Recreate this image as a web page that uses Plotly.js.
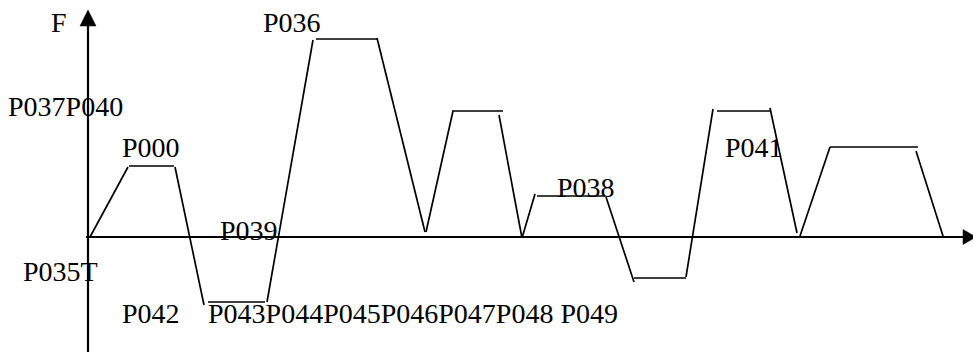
<!DOCTYPE html>
<html>
<head>
<meta charset="utf-8">
<script src="https://cdn.plot.ly/plotly-3.0.1.min.js"></script>
<style>
  body { margin: 0; background: #fff; }
  #plot { width: 973px; height: 352px; }
</style>
</head>
<body>
<div id="plot"></div>
<script>
// time axis (t) and force (F); null breaks the separate strokes of the diagram
var t = [2, 40, null, 41, 86, null, 87, 116, null, 120, 177, null,
         179, 225, null, 228, 289, null, 289, 337, null, 338, 365, null,
         364, 415, null, 411, 434, null, 434, 447, null, 449, 517, null,
         518, 546, null, 546, 598, null, 598, 625, null, 629, 682, null,
         682, 709, null, 712, 742, null, 742, 830, null, 828, 855];
var F = [0, 70, null, 71, 71, null, 70, -68, null, -65, -65, null,
         -65, 197, null, 198, 198, null, 199, 5, null, 5, 126, null,
         126, 126, null, 122, -1, null, -1, 43, null, 41, 41, null,
         40, -45, null, -41, -41, null, -40, 128, null, 126, 126, null,
         129, 4, null, 1, 90, null, 90, 90, null, 86, 1];

var labels = ["F", "P036", "P037P040", "P000", "P039", "P035T", "P042",
              "P043P044P045P046P047P048 P049", "P038", "P041"];

var trace = {
  x: t,
  y: F,
  mode: "lines",
  type: "scatter",
  connectgaps: false,
  line: {color: "#000", width: 1.7},
  hoverinfo: "skip"
};

// label anchors in pixels (left edge, text baseline)
var anchors = [[51, 32], [263, 32], [8, 116], [122, 157], [220, 240],
               [23, 281], [122, 323], [208, 323], [557, 197], [725, 157]];

var annotations = labels.map(function (txt, i) {
  return {
    text: txt,
    x: anchors[i][0] - 88 - 2,
    y: 237 - (anchors[i][1] - 9.8),
    xref: "x", yref: "y",
    xanchor: "left", yanchor: "middle",
    showarrow: false,
    font: {family: "'Liberation Serif', 'DejaVu Serif', serif", size: 28, color: "#000"}
  };
});

var shapes = [
  // F axis
  {type: "line", x0: 0, x1: 0, y0: -120, y1: 212, line: {color: "#000", width: 2.2}},
  {type: "path", path: "M -8 211 L 8 211 L 0 227 Z", fillcolor: "#000", line: {color: "#000", width: 0.5}},
  // t axis
  {type: "line", x0: -2, x1: 876, y0: 0, y1: 0, line: {color: "#000", width: 2.2}},
  {type: "path", path: "M 875 7.5 L 875 -7.5 L 888 0 Z", fillcolor: "#000", line: {color: "#000", width: 0.5}}
];

var layout = {
  width: 973,
  height: 352,
  margin: {l: 0, r: 0, t: 0, b: 0},
  paper_bgcolor: "#fff",
  plot_bgcolor: "#fff",
  showlegend: false,
  xaxis: {range: [-88, 885], visible: false, fixedrange: true},
  yaxis: {range: [-115, 237], visible: false, fixedrange: true},
  annotations: annotations,
  shapes: shapes
};

Plotly.newPlot("plot", [trace], layout, {displayModeBar: false, staticPlot: true});
</script>
</body>
</html>
